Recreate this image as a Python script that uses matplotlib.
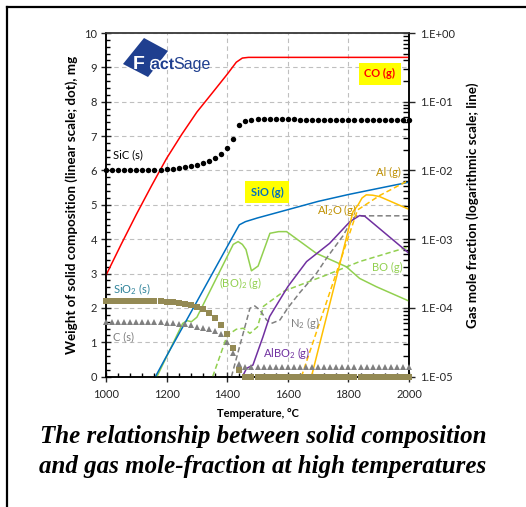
import numpy as np
import matplotlib
matplotlib.use("Agg")
import matplotlib.pyplot as plt
import matplotlib.patheffects as pe
from matplotlib.patches import Polygon
from matplotlib.lines import Line2D
from matplotlib.ticker import MultipleLocator, LogLocator, NullFormatter, FuncFormatter

plt.rcParams['font.family'] = ['Lato', 'DejaVu Sans']
plt.rcParams['mathtext.default'] = 'regular'

W, H = 526, 507

# ---- solid phases (left axis, mg), read every 20 C ----
temp_solid = list(range(1000, 2001, 20))
sic_s = [6.02, 6.02, 6.02, 6.02, 6.02, 6.02, 6.02, 6.02, 6.02, 6.02,
         6.03, 6.04, 6.06, 6.09, 6.13, 6.17, 6.21, 6.27, 6.36, 6.48,
         6.65, 6.92, 7.33, 7.45, 7.48,
         7.49, 7.49, 7.49, 7.49, 7.49, 7.49, 7.49, 7.48, 7.48, 7.48,
         7.48, 7.48, 7.48, 7.48, 7.48, 7.47, 7.47, 7.47, 7.47, 7.47,
         7.47, 7.47, 7.46, 7.46, 7.46, 7.46]
sio2_s = [2.2, 2.2, 2.2, 2.2, 2.2, 2.2, 2.2, 2.2,
          2.2, 2.19, 2.18, 2.17, 2.15, 2.12, 2.08, 2.03, 1.96, 1.85,
          1.70, 1.50, 1.24, 0.83, 0.2,
          0, 0, 0, 0, 0, 0, 0, 0, 0, 0, 0, 0, 0, 0,
          0, 0, 0, 0, 0, 0, 0, 0, 0, 0, 0, 0, 0, 0]
c_s = [1.6, 1.6, 1.6, 1.6, 1.59, 1.59, 1.59, 1.58, 1.58, 1.58,
       1.57, 1.56, 1.54, 1.52, 1.49, 1.46, 1.43, 1.39, 1.33, 1.23,
       1.02, 0.68, 0.36,
       0.29, 0.29, 0.29, 0.29, 0.29, 0.29, 0.29, 0.29, 0.29, 0.29,
       0.28, 0.28, 0.28, 0.28, 0.28, 0.28, 0.28, 0.28, 0.28, 0.28,
       0.27, 0.27, 0.27, 0.27, 0.27, 0.27, 0.27, 0.27]

# ---- gas species (right axis, mole fraction) ----
co_t = [1000, 1050, 1100, 1150, 1200, 1250, 1300, 1350, 1400, 1430, 1450, 1470, 2000]
co_x = [2.99e-4, 8.41e-4, 2.29e-3, 5.96e-3, 1.50e-2, 3.35e-2, 7.08e-2, 0.133, 0.251, 0.376, 0.432, 0.442, 0.442]

sio_t = [1163, 1200, 1300, 1400, 1440, 1460, 1500, 1600, 1700, 1800, 1900, 2000]
sio_x = [1.0e-5, 2.0e-5, 1.24e-4, 7.8e-4, 1.62e-3, 1.80e-3, 2.04e-3, 2.69e-3, 3.55e-3, 4.47e-3, 5.5e-3, 6.76e-3]

bo2_t = [1168, 1253, 1268, 1282, 1300, 1420, 1436, 1450, 1462, 1480, 1502, 1541, 1570, 1596,
         1694, 1793, 1837, 1892, 2000]
bo2_x = [1.0e-5, 5.96e-5, 6.53e-5, 6.31e-5, 7.33e-5, 8.41e-4, 9.23e-4, 8.41e-4, 7.08e-4, 3.47e-4,
         4.07e-4, 1.22e-3, 1.29e-3, 1.29e-3, 6.24e-4, 3.98e-4, 2.69e-4, 2.04e-4, 1.26e-4]

bo_t = [1352, 1400, 1430, 1453, 1475, 1500, 1520, 1590, 1728, 1837, 2000]
bo_x = [1.0e-5, 3.98e-5, 4.90e-5, 5.07e-5, 4.27e-5, 5.3e-5, 1.06e-4, 1.78e-4, 3.02e-4, 4.73e-4, 7.76e-4]

n2_t = [1414, 1475, 1491, 1508, 1530, 1546, 1574, 1600, 1640, 1694, 1728, 1782, 1815, 1826, 2000]
n2_x = [1.0e-5, 9.89e-5, 1.07e-4, 9.33e-5, 6.68e-5, 5.96e-5, 6.68e-5, 1.0e-4, 1.68e-4, 3.16e-4,
        5.31e-4, 1.12e-3, 2.0e-3, 2.19e-3, 2.19e-3]

albo2_t = [1450, 1464, 1485, 1518, 1540, 1600, 1662, 1738, 1805, 1837, 1854, 2000]
albo2_x = [1.0e-5, 1.32e-5, 1.48e-5, 3.80e-5, 7.50e-5, 2.04e-4, 4.73e-4, 8.71e-4, 1.80e-3,
           2.21e-3, 2.16e-3, 6.24e-4]

al2o_t = [1678, 1750, 1815, 1832, 1845, 1859, 1880, 1903, 2000]
al2o_x = [1.0e-5, 1.82e-4, 2.51e-3, 3.16e-3, 3.98e-3, 4.42e-3, 4.37e-3, 4.17e-3, 2.72e-3]

al_t = [1645, 1830, 1903, 2000]
al_x = [1.0e-5, 2.66e-3, 4.32e-3, 7.24e-3]

RED = '#FF0000'
BLUE = '#0070C0'
GREEN = '#92D050'
GRAY = '#808080'
PURPLE = '#7030A0'
ORANGE = '#FFC000'
GOLD = '#BF9000'
OLIVE = '#948A54'

fig = plt.figure(figsize=(W / 100, H / 100), dpi=100)
ax = fig.add_axes([106 / W, 130.3 / H, 303 / W, 343.7 / H])
ax2 = ax.twinx()
ax2.set_position(ax.get_position())

ax.set_xlim(1000, 2000)
ax.set_ylim(0, 10)
ax2.set_yscale('log')
ax2.set_ylim(1e-5, 1)

ax.xaxis.set_major_locator(MultipleLocator(200))
ax.xaxis.set_minor_locator(MultipleLocator(40))
ax.yaxis.set_major_locator(MultipleLocator(1))
ax.yaxis.set_minor_locator(MultipleLocator(0.2))
ax2.yaxis.set_major_locator(LogLocator(base=10, numticks=10))
ax2.yaxis.set_minor_locator(LogLocator(base=10, subs=np.arange(2, 10), numticks=10))
ax2.yaxis.set_minor_formatter(NullFormatter())
ax2.yaxis.set_major_formatter(FuncFormatter(lambda v, p: "1.E%+03d" % int(round(np.log10(v)))))

ax.grid(True, which='major', color='#BFBFBF', linestyle=(0, (4, 3)), linewidth=0.8)
ax.set_axisbelow(True)

for a in (ax, ax2):
    for s in a.spines.values():
        s.set_color('black')
        s.set_linewidth(1.1)
    a.spines['top'].set_color('#404040')

ax.tick_params(which='major', direction='inout', length=7, width=1, labelsize=8, colors='#262626', pad=3)
ax.tick_params(which='minor', direction='in', length=3, width=1)
ax.tick_params(axis='x', which='major', pad=5)
ax2.tick_params(which='major', direction='inout', length=8, width=1, labelsize=8, colors='#262626', pad=4)
ax2.tick_params(which='minor', direction='in', length=4, width=1)

# gas phases
lw = 1.1
dash = (0, (3.5, 2))
ax2.plot(co_t, co_x, color=RED, lw=lw)
ax2.plot(bo2_t, bo2_x, color=GREEN, lw=lw)
ax2.plot(sio_t, sio_x, color=BLUE, lw=lw)
ax2.plot(bo_t, bo_x, color=GREEN, lw=lw, linestyle=dash)
ax2.plot(n2_t, n2_x, color=GRAY, lw=lw, linestyle=dash)
ax2.plot(albo2_t, albo2_x, color=PURPLE, lw=lw)
ax2.plot(al_t, al_x, color=ORANGE, lw=lw, linestyle=dash)
ax2.plot(al2o_t, al2o_x, color=ORANGE, lw=lw)

# solid phases, drawn on top of the lines but in left-axis units
lin = ax.transData
ax2.plot(temp_solid, sic_s, 'o', color='black', ms=3.9, mew=0, clip_on=False, zorder=4, transform=lin)
ax2.plot(temp_solid, sio2_s, 's', color=OLIVE, ms=4.3, mew=0, clip_on=False, zorder=4, transform=lin)
ax2.plot(temp_solid, c_s, '^', color=GRAY, ms=3.9, mew=0, clip_on=False, zorder=4, transform=lin)

# labels (data coords of the left axis)
lab = dict(fontsize=8, va='center', zorder=6, transform=lin)
ax2.text(1023, 6.45, 'SiC (s)', color='black', **lab)
ax2.text(1023, 2.55, 'SiO$_2$ (s)', color='#31849B', **lab)
ax2.text(1023, 1.16, 'C (s)', color=GRAY, **lab)
ax2.text(1373, 2.73, '(BO)$_2$ (g)', color=GREEN, **lab)
ax2.text(1607, 1.56, 'N$_2$ (g)', color=GRAY, **lab)
ax2.text(1518, 0.69, 'AlBO$_2$ (g)', color=PURPLE, **lab)
ax2.text(1878, 3.19, 'BO (g)', color=GREEN, **lab)
ax2.text(1696, 4.85, 'Al$_2$O (g)', color=GOLD, **lab)
ax2.text(1891, 5.93, 'Al (g)', color=GOLD, **lab)
ax2.text(1531, 5.37, 'SiO (g)', color=BLUE, ha='center', fontweight='bold',
         bbox=dict(facecolor='#FFFF00', edgecolor='none', pad=4), **lab)
ax2.text(1904, 8.81, 'CO (g)', color=RED, ha='center', fontweight='bold',
         bbox=dict(facecolor='#FFFF00', edgecolor='none', pad=4), **lab)

ax.set_xlabel('Temperature, \u00b0C', fontsize=8, fontweight='bold', labelpad=6)
ax.set_ylabel('Weight of solid composition (linear scale; dot), mg', fontsize=9.6,
              fontweight='bold', labelpad=4)
ax2.set_ylabel('Gas mole fraction (logarithmic scale; line)', fontsize=9.6,
               fontweight='bold', labelpad=8)


def fx(x):
    return x / W


def fy(y):
    return 1 - y / H


# FactSage logo
logo = '#1F3F8F'
white_edge = [pe.withStroke(linewidth=2.2, foreground='white')]
fig.add_artist(Polygon([(fx(123), fy(64)), (fx(144), fy(38)), (fx(168), fy(51)), (fx(148), fy(77))],
                       closed=True, facecolor=logo, edgecolor='none', transform=fig.transFigure,
                       zorder=1))
fig.text(fx(133), fy(69), 'F', color='white', fontsize=14, fontweight='bold',
         family='Liberation Sans', va='baseline', zorder=5)
fig.text(fx(151), fy(69), 'act', color=logo, fontsize=11.5, fontweight='bold',
         family='Liberation Sans', va='baseline', zorder=5, path_effects=white_edge)
fig.text(fx(173), fy(69), 'Sage', color=logo, fontsize=11.5,
         family=['Liberation Sans Narrow', 'Liberation Sans'], va='baseline', zorder=5)

# outer frame
fig.add_artist(Line2D([fx(7), 1], [fy(7), fy(7)], color='black', lw=1.6, transform=fig.transFigure))
fig.add_artist(Line2D([fx(7), fx(7)], [fy(7), 0], color='black', lw=1.6, transform=fig.transFigure))

tfont = dict(family='Liberation Serif', fontweight='bold', style='italic', fontsize=18,
             ha='center', va='center')
fig.text(fx(263), fy(437), 'The relationship between solid composition', **tfont)
fig.text(fx(263), fy(467), 'and gas mole-fraction at high temperatures', **tfont)

fig.savefig('out.png', dpi=100)
